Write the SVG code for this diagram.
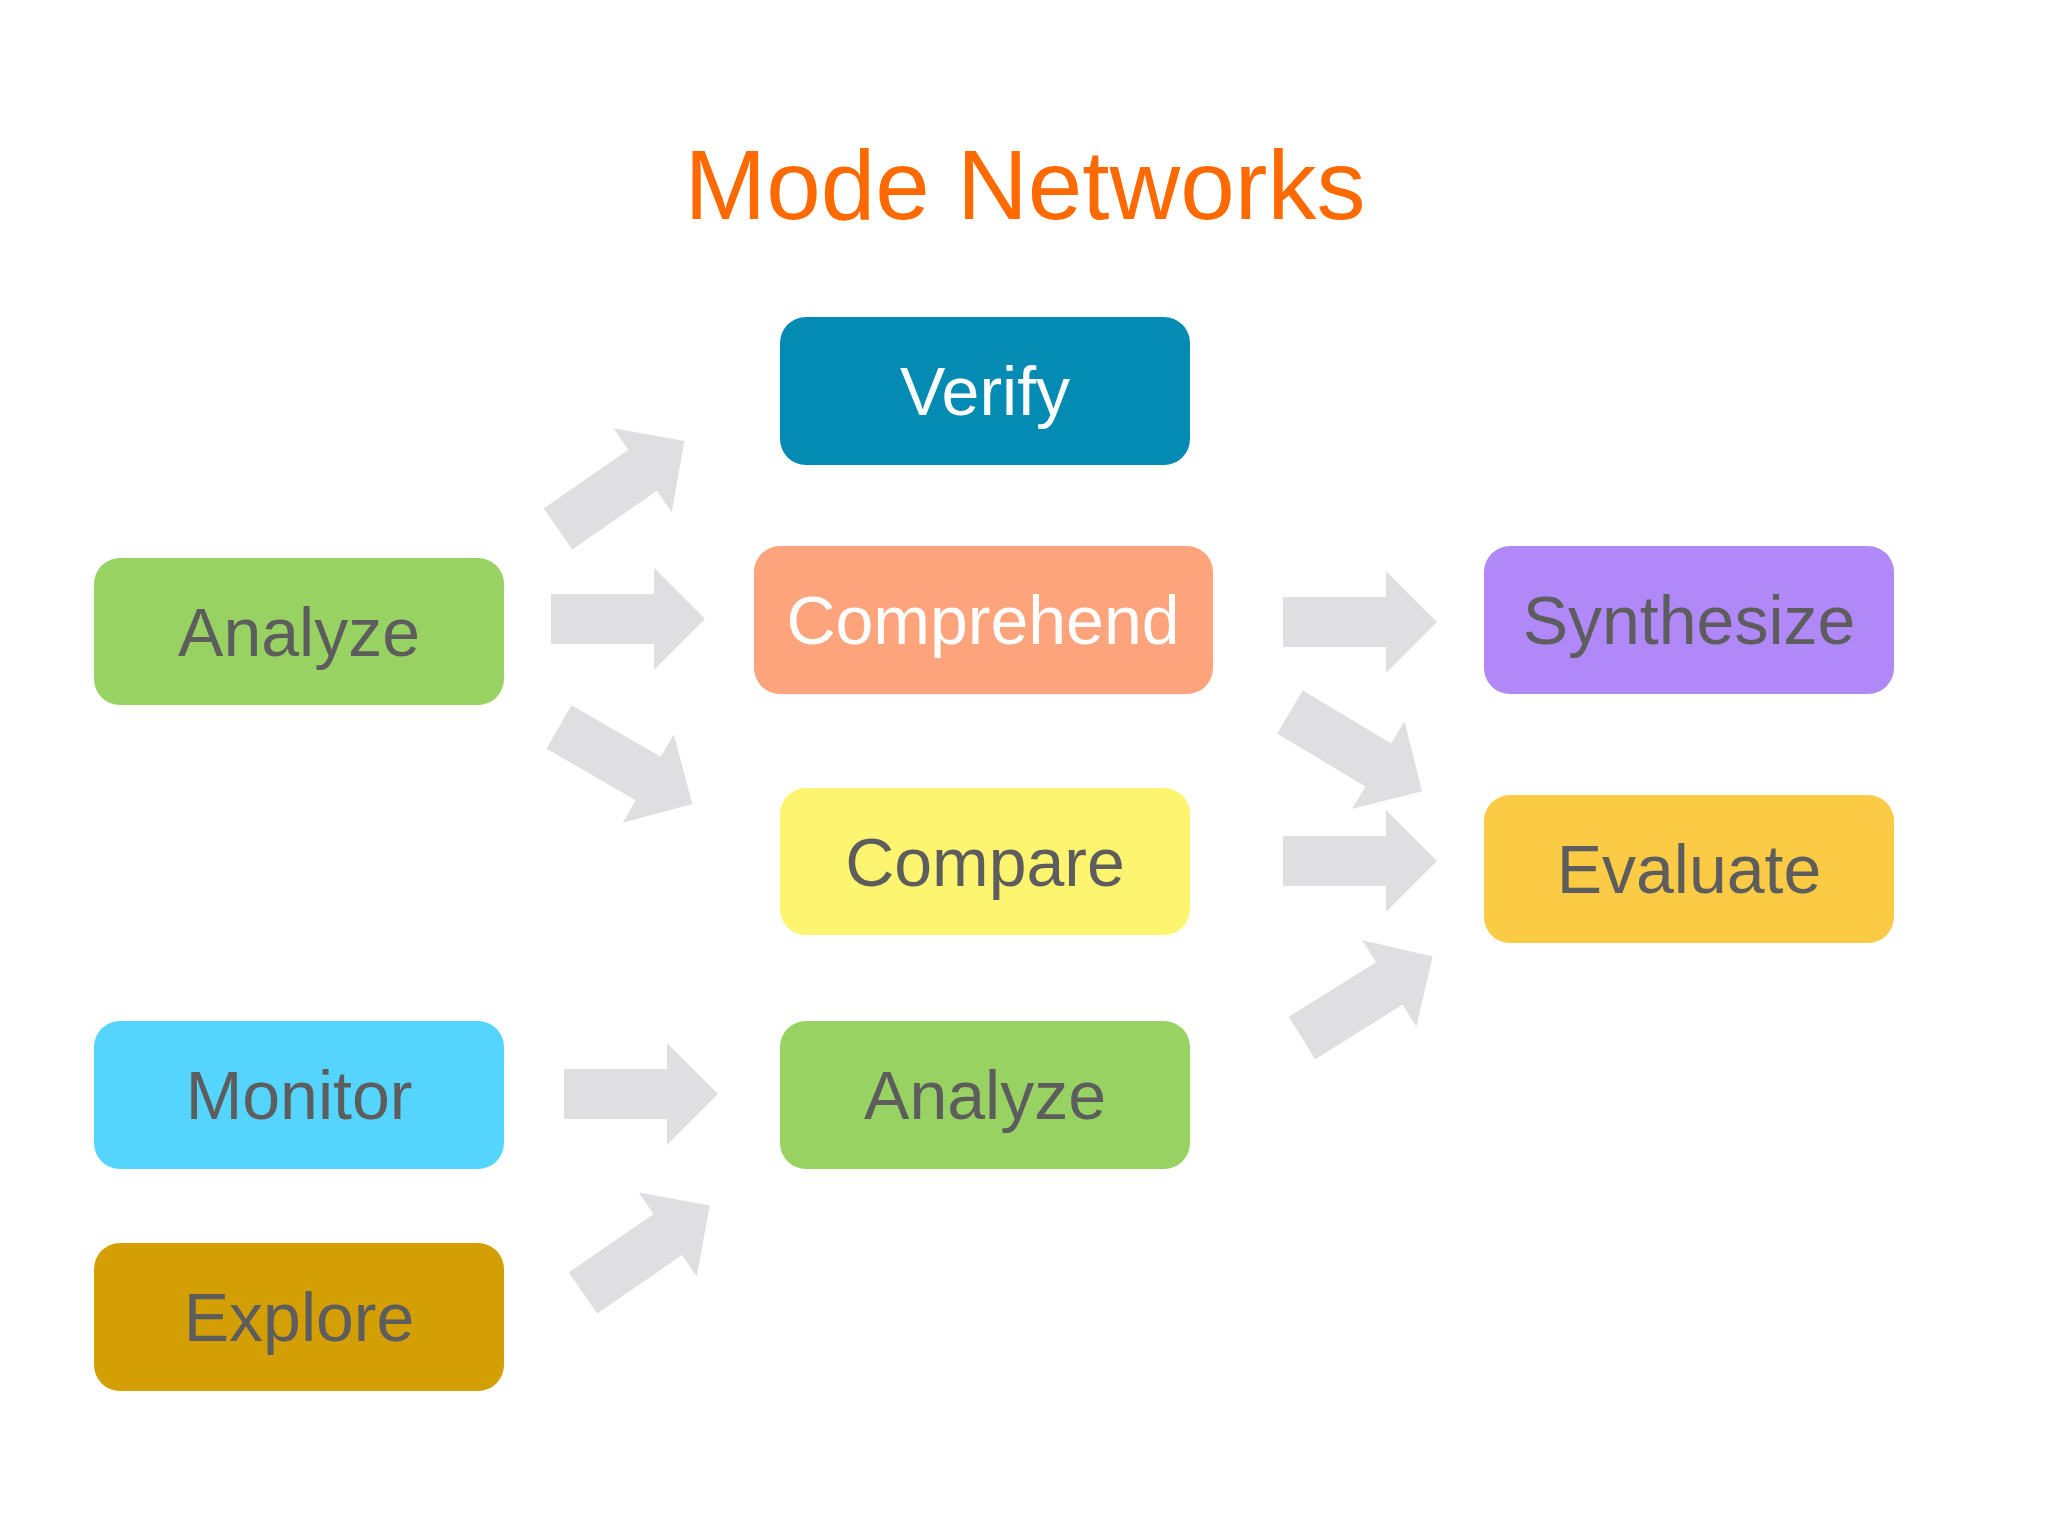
<svg xmlns="http://www.w3.org/2000/svg" width="2048" height="1536" viewBox="0 0 2048 1536">
<style>
.t{font-family:"Helvetica Neue","Liberation Sans",Arial,sans-serif;font-size:68px;text-anchor:middle;dominant-baseline:central;fill:#5d5d5d}
.w{fill:#ffffff}
.a{fill:#dfdee0}
</style>
<defs><path id="arr" d="M0,-25 H103 V-51 L154,0 L103,51 V25 H0 Z"/></defs>
<rect width="2048" height="1536" fill="#ffffff"/>
<text x="1025" y="219" font-family="'Helvetica Neue','Liberation Sans',Arial,sans-serif" font-size="98" fill="#ff6a00" text-anchor="middle">Mode Networks</text>
<g id="connectors" class="a">
<use href="#arr" transform="translate(558,529) rotate(-34.8)"/>
<use href="#arr" transform="translate(551,619)"/>
<use href="#arr" transform="translate(559,727) rotate(30)"/>
<use href="#arr" transform="translate(1283,622)"/>
<use href="#arr" transform="translate(1290,712) rotate(31)"/>
<use href="#arr" transform="translate(1283,861)"/>
<use href="#arr" transform="translate(1302,1038) rotate(-32)"/>
<use href="#arr" transform="translate(564,1094)"/>
<use href="#arr" transform="translate(583,1293) rotate(-34.6)"/>
</g>
<g id="verify"><rect x="780" y="317" width="410" height="148" rx="26" fill="#038bb3"/><text class="t w" x="985" y="391">Verify</text></g>
<g id="comprehend"><rect x="754" y="546" width="459" height="148" rx="26" fill="#fda47c"/><text class="t w" x="983" y="620">Comprehend</text></g>
<g id="compare"><rect x="780" y="788" width="410" height="147" rx="26" fill="#fdf56f"/><text class="t" x="985" y="862">Compare</text></g>
<g id="analyze2"><rect x="780" y="1021" width="410" height="148" rx="26" fill="#98d262"/><text class="t" x="985" y="1095">Analyze</text></g>
<g id="analyze1"><rect x="94" y="558" width="410" height="147" rx="26" fill="#98d262"/><text class="t" x="299" y="632">Analyze</text></g>
<g id="monitor"><rect x="94" y="1021" width="410" height="148" rx="26" fill="#55d4fd"/><text class="t" x="299" y="1095">Monitor</text></g>
<g id="explore"><rect x="94" y="1243" width="410" height="148" rx="26" fill="#d39f04"/><text class="t" x="299" y="1317">Explore</text></g>
<g id="synthesize"><rect x="1484" y="546" width="410" height="148" rx="26" fill="#b088f7"/><text class="t" x="1689" y="620">Synthesize</text></g>
<g id="evaluate"><rect x="1484" y="795" width="410" height="148" rx="26" fill="#fccb45"/><text class="t" x="1689" y="869">Evaluate</text></g>
</svg>
